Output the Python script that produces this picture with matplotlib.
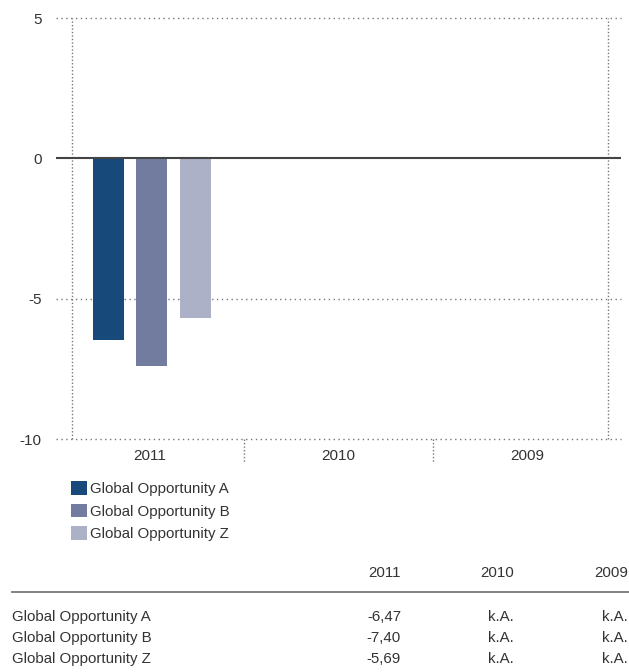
import numpy as np
import matplotlib
matplotlib.use("Agg")
import matplotlib.pyplot as plt
from matplotlib.patches import Patch
from matplotlib.lines import Line2D

# daten
jahre = ["2011", "2010", "2009"]
fonds = ["Global Opportunity A", "Global Opportunity B", "Global Opportunity Z"]
werte_2011 = [-6.47, -7.40, -5.69]
tabelle = [["-6,47", "k.A.", "k.A."],
           ["-7,40", "k.A.", "k.A."],
           ["-5,69", "k.A.", "k.A."]]
farben = ["#174A7B", "#717C9F", "#ADB1C8"]
y_ticks = [5, 0, -5, -10]

plt.rcParams['font.family'] = ['Liberation Sans', 'DejaVu Sans']
txt = "#333333"
fs = 10.8
W, H = 629, 672

fig = plt.figure(figsize=(W / 100, H / 100), dpi=100)
ax = fig.add_axes([56 / W, 1 - 439 / H, (621 - 56) / W, (439 - 18) / H])

x = np.arange(len(jahre))
breite = 0.165
versatz = [-0.222, 0.007, 0.24]
for i in range(len(fonds)):
    ax.bar(x[0] + versatz[i], werte_2011[i], width=breite, color=farben[i], zorder=3)

ax.set_xlim(-0.5, 2.5)
ax.set_ylim(-10, 5)

# gitter
for yv in [5, -5, -10]:
    ax.axhline(yv, color="#777777", lw=1, ls=(0, (1, 2.5)), zorder=1, clip_on=False)
ax.axhline(0, color="#444444", lw=1.5, zorder=4)
for xv in [-0.415, 2.43]:
    ax.axvline(xv, color="#777777", lw=1, ls=(0, (1, 1.5)), zorder=1, clip_on=False)

# trennstriche unter der achse
trans = matplotlib.transforms.blended_transform_factory(ax.transData, ax.transAxes)
for xv in [0.5, 1.5]:
    ax.plot([xv, xv], [0, -23 / 421], transform=trans, clip_on=False,
            color="#777777", lw=1, ls=(0, (1, 1.5)))

for s in ax.spines.values():
    s.set_visible(False)
ax.set_yticks(y_ticks)
ax.set_yticklabels([str(v) for v in y_ticks])
ax.set_xticks(x)
ax.set_xticklabels(jahre)
ax.tick_params(length=0, labelsize=11, colors=txt)
ax.tick_params(axis="y", pad=10.5)
ax.tick_params(axis="x", pad=7)

# legende
handles = [Patch(facecolor=c, edgecolor="none") for c in farben]
fig.legend(handles, fonds, loc="upper left", bbox_to_anchor=(71 / W, 1 - 481 / H),
           frameon=False, fontsize=fs, borderpad=0, borderaxespad=0,
           handlelength=1.05, handleheight=1.05, handletextpad=0.2,
           labelspacing=0.5, labelcolor=txt)

# tabelle
rechts = [401, 514, 628]
for j, jahr in enumerate(jahre):
    fig.text(rechts[j] / W, 1 - 573 / H, jahr, ha="right", va="center",
             fontsize=fs, color=txt)
fig.add_artist(Line2D([12 / W, 629 / W], [1 - 592 / H, 1 - 592 / H],
                      color="#777777", lw=1.3))
zeilen_y = [617, 638, 659]
for i, name in enumerate(fonds):
    fig.text(12 / W, 1 - zeilen_y[i] / H, name, ha="left", va="center",
             fontsize=fs, color=txt)
    for j in range(len(jahre)):
        fig.text(rechts[j] / W, 1 - zeilen_y[i] / H, tabelle[i][j], ha="right",
                 va="center", fontsize=fs, color=txt)

fig.savefig("out.png", dpi=100)
